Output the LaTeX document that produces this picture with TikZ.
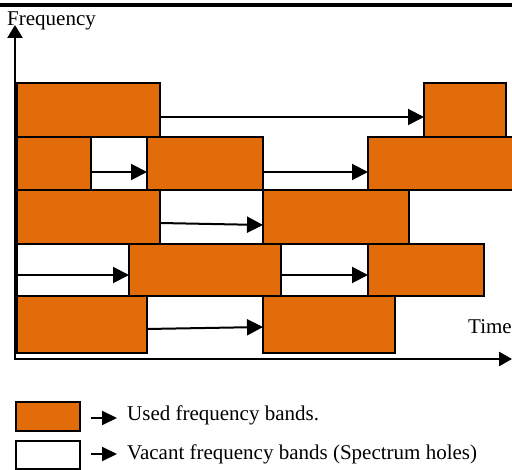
\documentclass[tikz,border=0pt]{standalone}
\usepackage{fontspec}
\setmainfont{Liberation Serif}
\usetikzlibrary{arrows.meta}
\definecolor{bandorange}{RGB}{227,108,10}

\tikzset{
  band/.style={draw=black, line width=2pt, inner sep=0pt, outer sep=0pt,
               anchor=north west},
  used/.style={band, fill=bandorange},
  vacant/.style={band, fill=white},
  flow/.style={line width=2pt, -{Triangle[length=16pt,width=16pt]}},
  legarrow/.style={line width=2pt, -{Triangle[length=15pt,width=14pt]}},
  axis/.style={line width=2.5pt, line join=miter,
               {Triangle[length=13pt,width=15pt]}-{Triangle[length=13pt,width=14pt]}},
  label/.style={inner sep=0pt, anchor=base west, font=\fontsize{21}{24}\selectfont}
}

\begin{document}
\begin{tikzpicture}[x=1pt, y=-1pt]
\useasboundingbox (0,0) rectangle (512,470);

% heading rule
\draw[line width=3.4pt] (0,5) -- (512,5);

% vacant cells that carry their own outline
\node[vacant, minimum width=112.5pt, minimum height=52pt] (r4h1) at (16.5,244) {};
\node[vacant, minimum width=87pt,   minimum height=52pt] (r4h2) at (281,244) {};

% row 1
\node[used, minimum width=143.5pt, minimum height=54pt] (r1a) at (16.5,83) {};
\node[used, minimum width=82pt,    minimum height=54pt] (r1b) at (424,83) {};
% row 2
\node[used, minimum width=74.5pt, minimum height=53pt] (r2a) at (16.5,137) {};
\node[used, minimum width=116pt,  minimum height=53pt] (r2b) at (147,137) {};
\node[used, minimum width=150pt,  minimum height=53pt] (r2c) at (368,137) {};
% row 3
\node[used, minimum width=143.5pt, minimum height=54pt] (r3a) at (16.5,190) {};
\node[used, minimum width=146pt,   minimum height=54pt] (r3b) at (263,190) {};
% row 4
\node[used, minimum width=152pt, minimum height=52pt] (r4a) at (129,244) {};
\node[used, minimum width=116pt, minimum height=52pt] (r4b) at (368,244) {};
% row 5
\node[used, minimum width=130.5pt, minimum height=57pt] (r5a) at (16.5,296) {};
\node[used, minimum width=132pt,   minimum height=57pt] (r5b) at (263,296) {};

% band transitions
\draw[flow] ([yshift=-7pt]r1a.east) -- ([yshift=-7pt]r1b.west);
\draw[flow] ([yshift=-8.5pt]r2a.east) -- ([yshift=-8.5pt]r2b.west);
\draw[flow] ([yshift=-8.5pt]r2b.east) -- ([yshift=-8.5pt]r2c.west);
\draw[flow] ([yshift=-6pt]r3a.east) -- ([yshift=-8pt]r3b.west);
\draw[flow] ([yshift=-5pt]r4h1.west) -- ([yshift=-5pt]r4a.west);
\draw[flow] ([yshift=-5pt]r4a.east) -- ([yshift=-5pt]r4b.west);
\draw[flow] ([yshift=-4.5pt]r5a.east) -- ([yshift=-2.5pt]r5b.west);

% axes
\coordinate (origin) at (15,359);
\coordinate (ytip) at (15,25);
\coordinate (xtip) at (512,359);
\draw[axis] (ytip) -- (origin) -- (xtip);
\node[label] (freq) at (7,26) {Frequency};
\node[label] (time) at (468,334) {Time};

% legend
\node[used,   minimum width=64pt, minimum height=29pt] (legused) at (16,402) {};
\node[vacant, minimum width=64pt, minimum height=28pt] (legvacant) at (16,441) {};
\draw[legarrow] ([xshift=11pt,yshift=-1.5pt]legused.east) -- ([xshift=37pt,yshift=-1.5pt]legused.east);
\draw[legarrow] ([xshift=11pt,yshift=1pt]legvacant.east) -- ([xshift=37pt,yshift=1pt]legvacant.east);
\node[label] (usedtxt) at (127,421) {Used frequency bands.};
\node[label] (vacanttxt) at (127,460) {Vacant frequency bands (Spectrum holes)};
\end{tikzpicture}
\end{document}
